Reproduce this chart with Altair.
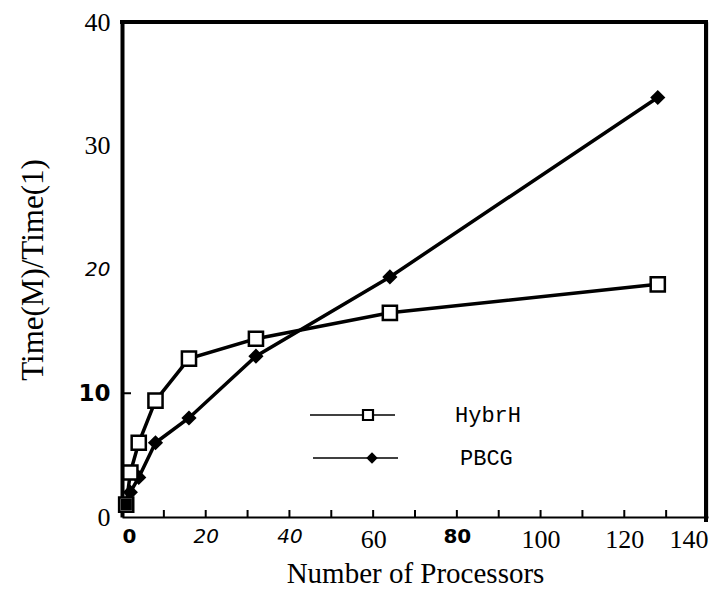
import altair as alt
import pandas as pd

procs = [1, 2, 4, 8, 16, 32, 64, 128]
hybrid = [1.0, 3.6, 6.0, 9.4, 12.8, 14.4, 16.5, 18.8]
pbcg = [1.0, 2.0, 3.2, 6.0, 8.0, 13.0, 19.4, 33.9]
series_names = ["HybrH", "PBCG"]
x_ticks = [0, 20, 40, 60, 80, 100, 120, 140]
y_ticks = [0, 10, 20, 30, 40]
minor_x = [10, 20, 30, 40, 50, 60, 70, 80, 90, 100, 110, 120, 130]

W, H = 586, 495

df = pd.DataFrame({
    "procs": procs * 2,
    "ratio": hybrid + pbcg,
    "series": [series_names[0]] * len(procs) + [series_names[1]] * len(procs),
})
df_h = df[df.series == series_names[0]]
df_p = df[df.series == series_names[1]]

xs = alt.Scale(domain=[0, 140], nice=False)
ys = alt.Scale(domain=[0, 40], nice=False)

serif = "Liberation Serif"
sans = "DejaVu Sans"

x_axis = alt.Axis(
    values=x_ticks, ticks=False, grid=False, domainWidth=2, domainColor="black",
    labelPadding=9, labelColor="black",
    labelFontSize={"expr": "(datum.value==20 || datum.value==40 || datum.value==0 || datum.value==80) ? 20 : 26"},
    labelFont={"condition": {"test": "datum.value==20 || datum.value==40 || datum.value==0 || datum.value==80", "value": sans}, "value": serif},
    labelFontStyle={"condition": {"test": "datum.value==20 || datum.value==40", "value": "italic"}, "value": "normal"},
    labelFontWeight={"condition": {"test": "datum.value==0 || datum.value==80", "value": "bold"}, "value": "normal"},
    title="Number of Processors", titleFont=serif, titleFontSize=29, titleFontWeight="normal",
    titleColor="black", titlePadding=7,
)
y_axis = alt.Axis(
    values=y_ticks, ticks=False, grid=False, domainWidth=4, domainColor="black",
    labelPadding=12, labelColor="black",
    labelFontSize={"expr": "datum.value==20 ? 20 : (datum.value==10 ? 23 : 26)"},
    labelFont={"condition": {"test": "datum.value==20 || datum.value==10", "value": sans}, "value": serif},
    labelFontStyle={"condition": {"test": "datum.value==20", "value": "italic"}, "value": "normal"},
    labelFontWeight={"condition": {"test": "datum.value==10", "value": "bold"}, "value": "normal"},
    title="Time(M)/Time(1)", titleFont=serif, titleFontSize=31, titleFontWeight="normal",
    titleColor="black", titlePadding=28,
)

line_h = alt.Chart(df_h).mark_line(color="black", strokeWidth=3.5, interpolate="linear").encode(
    x=alt.X("procs:Q", scale=xs, axis=x_axis),
    y=alt.Y("ratio:Q", scale=ys, axis=y_axis),
)
line_p = alt.Chart(df_p).mark_line(color="black", strokeWidth=3.5, interpolate="linear").encode(
    x=alt.X("procs:Q", scale=xs),
    y=alt.Y("ratio:Q", scale=ys),
)
pts_p = alt.Chart(df_p).mark_point(shape="diamond", filled=True, color="black", size=230, opacity=1).encode(
    x=alt.X("procs:Q", scale=xs),
    y=alt.Y("ratio:Q", scale=ys),
)
pts_h = alt.Chart(df_h).mark_point(shape="square", filled=True, fill="white", stroke="black",
                                   strokeWidth=2.5, size=200, opacity=1).encode(
    x=alt.X("procs:Q", scale=xs),
    y=alt.Y("ratio:Q", scale=ys),
)
start = alt.Chart(df_h.head(1)).mark_point(shape="square", filled=True, color="black", size=130, opacity=1).encode(
    x=alt.X("procs:Q", scale=xs),
    y=alt.Y("ratio:Q", scale=ys),
)

# inward ticks on x axis
tick_df = pd.DataFrame({"t": minor_x})
xticks = alt.Chart(tick_df).mark_rule(color="black", strokeWidth=2).encode(
    x=alt.X("t:Q", scale=xs),
    y=alt.value(H),
    y2=alt.value(H - 7),
)
ytick_df = pd.DataFrame({"t": [10]})
yticks = alt.Chart(ytick_df).mark_rule(color="black", strokeWidth=2).encode(
    y=alt.Y("t:Q", scale=ys),
    x=alt.value(0),
    x2=alt.value(9),
)

# frame: top and right
top = alt.Chart(tick_df.head(1)).mark_rule(color="black", strokeWidth=4).encode(
    x=alt.value(-2), x2=alt.value(W), y=alt.value(0))
right = alt.Chart(tick_df.head(1)).mark_rule(color="black", strokeWidth=4).encode(
    x=alt.value(W - 2), y=alt.value(-2), y2=alt.value(H + 5))

# legend
leg_df = pd.DataFrame({"series": series_names, "row": [0, 1]})
leg_h = leg_df[leg_df.row == 0]
leg_p = leg_df[leg_df.row == 1]
ly = [393, 436]
lline_h = alt.Chart(leg_h).mark_rule(color="black", strokeWidth=1.5).encode(
    x=alt.value(188), x2=alt.value(273), y=alt.value(ly[0]))
lline_p = alt.Chart(leg_p).mark_rule(color="black", strokeWidth=1.5).encode(
    x=alt.value(191), x2=alt.value(276), y=alt.value(ly[1]))
lmark_h = alt.Chart(leg_h).mark_point(shape="square", filled=True, fill="white", stroke="black",
                                     strokeWidth=2.2, size=100, opacity=1).encode(
    x=alt.value(246), y=alt.value(ly[0]))
lmark_p = alt.Chart(leg_p).mark_point(shape="diamond", filled=True, color="black", size=130, opacity=1).encode(
    x=alt.value(250), y=alt.value(ly[1]))
ltext_h = alt.Chart(leg_h).mark_text(align="left", baseline="middle", font="Liberation Mono",
                                     fontSize=22, color="black").encode(
    x=alt.value(333), y=alt.value(ly[0]), text="series:N")
ltext_p = alt.Chart(leg_p).mark_text(align="left", baseline="middle", font="Liberation Mono",
                                     fontSize=22, color="black").encode(
    x=alt.value(338), y=alt.value(ly[1]), text="series:N")

chart = alt.layer(
    line_h, line_p, pts_p, pts_h, start, xticks, yticks, top, right,
    lline_h, lline_p, lmark_h, lmark_p, ltext_h, ltext_p,
).properties(
    width=W, height=H,
    autosize=alt.AutoSizeParams(type="none"),
    padding={"left": 114, "top": 14, "right": 10, "bottom": 75},
).configure_view(stroke=None).configure(background="white")

chart.save("out.html", embed_options={"renderer": "svg", "actions": False})
